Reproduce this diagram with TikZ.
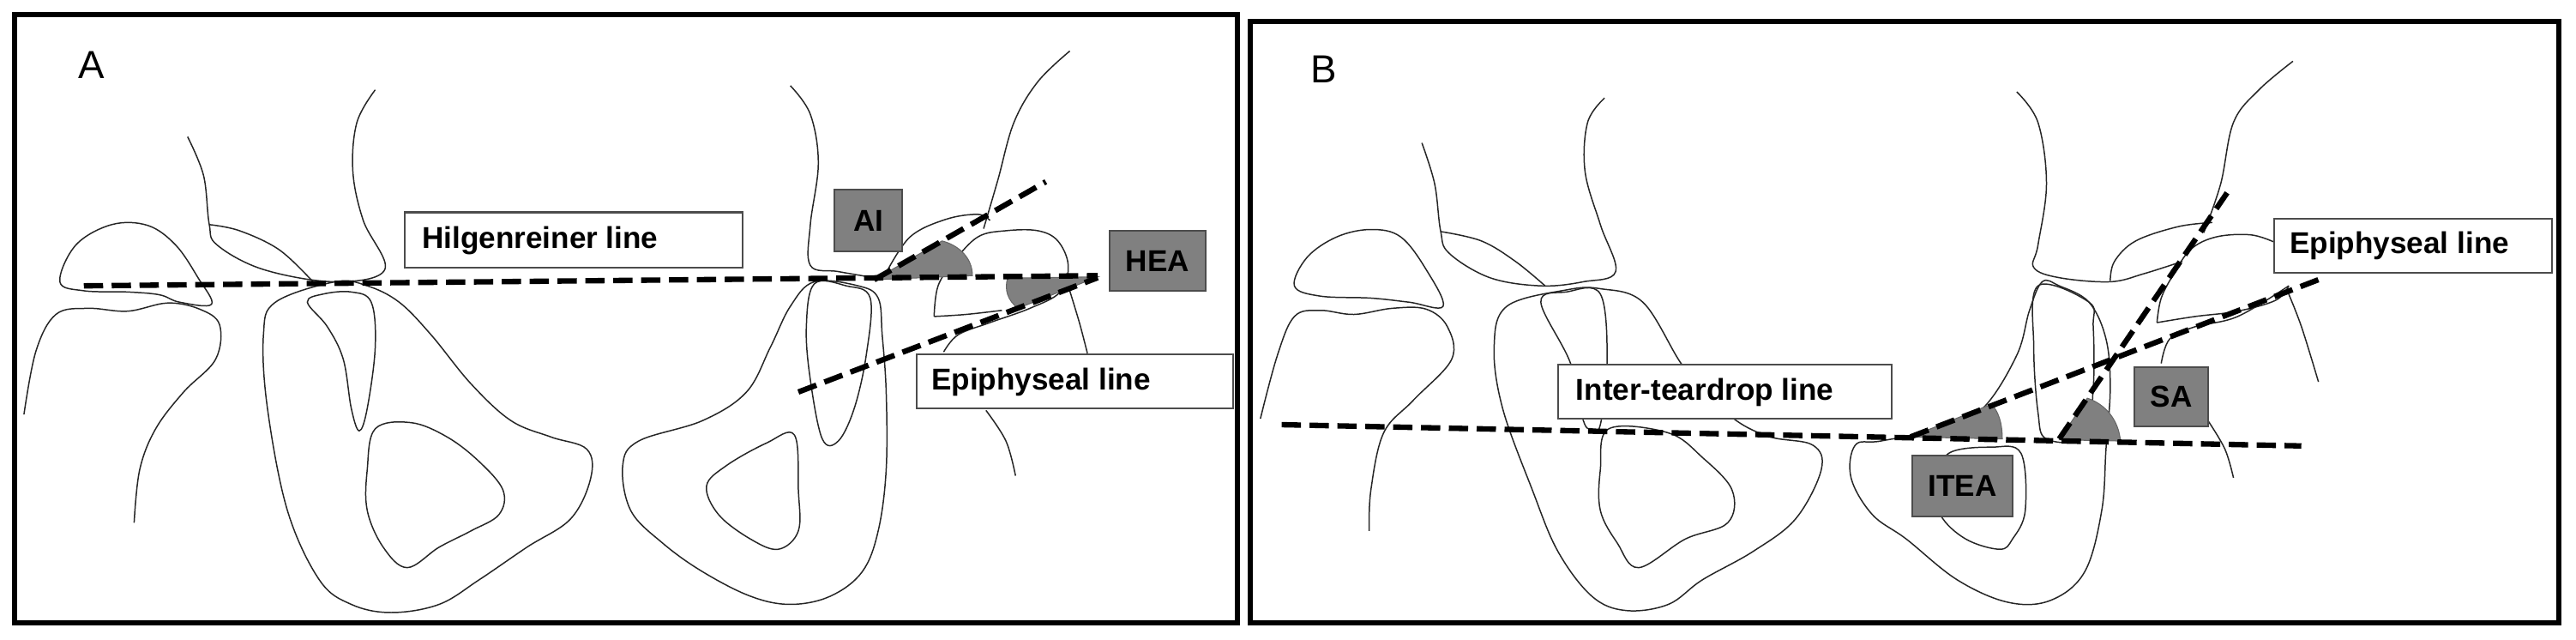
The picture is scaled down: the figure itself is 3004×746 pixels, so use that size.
\documentclass[tikz,border=0pt]{standalone}
\usepackage{fontspec}
\setmainfont{Liberation Sans}
\begin{document}
\begin{tikzpicture}[x=0.02cm,y=-0.02cm,
  bone/.style={line width=0.85pt,black!85},
  dline/.style={line width=3.6pt,dash pattern=on 0.45cm off 0.2cm},
  wedge/.style={fill=black!50,draw=black!60,line width=0.6pt},
  wbox/.style={fill=white,draw=black!70,line width=1.2pt},
  gbox/.style={fill=black!50,draw=black!70,line width=1.2pt},
  lbl/.style={font=\fontsize{20}{22}\selectfont\bfseries},
  frame/.style={line width=3.4pt}]
\useasboundingbox (0,0) rectangle (3004,746);
% ---------------- Panel A ----------------
\begin{scope}[xscale=0.931,yscale=0.476]
\draw[frame] (18,35) rectangle (1550,1525);
\node[font=\fontsize{26}{30}\selectfont] (labA) at (115,160) {A};
\draw[bone] plot[smooth cycle,tension=0.6] coordinates {(75,690)(95,600)(140,550)(185,552)(220,600)(248,680)(265,745)(225,740)(200,722)(160,715)(105,712)};
\draw[bone] plot[smooth,tension=0.6] coordinates {(30,1015)(45,860)(70,770)(110,755)(160,762)(210,742)(250,757)(275,795)(270,880)(230,960)(195,1050)(175,1150)(168,1280)};
\draw[bone] plot[smooth,tension=0.6] coordinates {(235,335)(255,430)(262,548)(272,600)(330,660)(420,690)(482,660)(455,540)(442,420)(447,300)(470,220)};
\draw[bone] plot[smooth,tension=0.6] coordinates {(262,550)(300,565)(350,612)(392,690)};
\draw[bone] plot[smooth cycle,tension=0.6] coordinates {(420,690)(345,740)(330,820)(335,1000)(360,1250)(400,1420)(440,1480)(490,1500)(550,1480)(600,1420)(660,1340)(715,1270)(740,1170)(735,1100)(690,1070)(640,1030)(590,940)(540,820)(500,740)(460,700)};
\draw[bone] plot[smooth cycle,tension=0.6] coordinates {(385,740)(405,720)(440,715)(465,740)(470,850)(460,1000)(450,1055)(440,1000)(430,880)(410,800)};
\draw[bone] plot[smooth cycle,tension=0.6] coordinates {(470,1050)(515,1035)(560,1070)(600,1130)(630,1200)(625,1260)(590,1300)(550,1340)(510,1390)(480,1340)(460,1250)(460,1150)};
\draw[bone] plot[smooth,tension=0.6] coordinates {(990,210)(1015,280)(1025,400)(1015,550)(1015,650)(1050,665)(1095,680)};
\draw[bone] plot[smooth,tension=0.6] coordinates {(1110,668)(1140,580)(1185,537)(1225,525)(1240,540)};
\draw[bone] plot[smooth,tension=0.6] coordinates {(1232,560)(1250,440)(1270,300)(1300,200)(1340,125)};
\draw[bone] plot[smooth,tension=0.6] coordinates {(1170,775)(1175,700)(1195,640)(1225,580)(1260,565)(1300,565)(1325,590)(1338,650)(1328,715)(1290,755)(1240,790)(1200,820)(1182,862)};
\draw[bone] plot[smooth,tension=0.6] coordinates {(1170,775)(1210,770)(1255,760)};
\draw[bone] plot[smooth,tension=0.6] coordinates {(1338,700)(1352,790)(1362,865)};
\draw[bone] plot[smooth,tension=0.6] coordinates {(1235,1005)(1260,1080)(1272,1165)};
\draw[bone] plot[smooth cycle,tension=0.6] coordinates {(1020,690)(990,750)(965,850)(935,960)(880,1030)(800,1080)(780,1140)(790,1250)(830,1330)(880,1400)(940,1460)(990,1480)(1040,1460)(1080,1400)(1100,1300)(1110,1150)(1110,960)(1105,820)(1100,730)(1075,700)};
\draw[bone] plot[smooth cycle,tension=0.6] coordinates {(1020,695)(1010,800)(1015,930)(1030,1075)(1050,1080)(1070,1000)(1085,870)(1090,730)(1060,700)};
\draw[bone] plot[smooth cycle,tension=0.6] coordinates {(995,1065)(1000,1200)(1000,1300)(975,1345)(940,1320)(900,1260)(885,1190)(910,1140)(960,1085)};
\filldraw[wedge] (1095,685) -- (1218,675) .. controls (1218,630) and (1200,600) .. (1180,590) -- cycle;
\filldraw[wedge] (1375,678) -- (1262,681) .. controls (1258,710) and (1262,735) .. (1275,755) -- cycle;
\coordinate (h1) at (105,700); \coordinate (h2) at (1375,675);
\coordinate (ai1) at (1095,685); \coordinate (ai2) at (1310,445);
\coordinate (ep1) at (1000,960); \coordinate (ep2) at (1375,680);
\draw[dline] (h1) -- (h2);
\draw[dline] (ai1) -- (ai2);
\draw[dline] (ep1) -- (ep2);
\draw[wbox] (507,520) rectangle (930,655);
\node[lbl,anchor=west] (hil) at (522,590) {Hilgenreiner line};
\draw[gbox] (1045,465) rectangle (1130,615);
\node[lbl] (ai) at (1088,540) {AI};
\draw[gbox] (1390,565) rectangle (1510,712);
\node[lbl] (hea) at (1450,640) {HEA};
\draw[wbox] (1148,868) rectangle (1545,1000);
\node[lbl,anchor=west] (epi) at (1160,936) {Epiphyseal line};
\end{scope}
% ---------------- Panel B ----------------
\begin{scope}[xshift=1450*0.02cm,xscale=0.991,yscale=0.476]
\draw[frame] (8,52) rectangle (1548,1525);
\node[font=\fontsize{26}{30}\selectfont] (labB) at (95,170) {B};
\draw[bone] plot[smooth cycle,tension=0.6] coordinates {(60,700)(75,630)(110,580)(150,562)(185,580)(215,660)(235,750)(195,740)(150,730)(90,725)};
\draw[bone] plot[smooth,tension=0.6] coordinates {(20,1025)(40,870)(60,775)(90,760)(130,770)(175,755)(215,757)(240,800)(245,880)(200,980)(165,1060)(150,1200)(148,1300)};
\draw[bone] plot[smooth,tension=0.6] coordinates {(210,350)(225,450)(232,565)(242,620)(290,680)(350,700)(400,690)(438,665)(420,550)(402,420)(405,300)(425,240)};
\draw[bone] plot[smooth,tension=0.6] coordinates {(232,567)(280,590)(320,640)(355,700)};
\draw[bone] plot[smooth cycle,tension=0.6] coordinates {(380,710)(310,750)(295,850)(305,1000)(340,1200)(370,1350)(410,1460)(450,1495)(500,1480)(540,1420)(600,1350)(650,1270)(680,1150)(670,1090)(620,1070)(580,1030)(545,960)(515,890)(470,740)(420,707)};
\draw[bone] plot[smooth cycle,tension=0.6] coordinates {(350,740)(380,715)(420,720)(428,890)(420,1040)(410,1050)(400,1030)(385,890)};
\draw[bone] plot[smooth cycle,tension=0.6] coordinates {(430,1050)(500,1060)(540,1120)(575,1200)(570,1280)(520,1320)(465,1390)(440,1330)(420,1250)(420,1150)};
\draw[bone] plot[smooth,tension=0.6] coordinates {(910,225)(935,300)(945,450)(935,600)(930,655)(960,680)(1020,690)(1060,670)(1105,640)};
\draw[bone] plot[smooth,tension=0.6] coordinates {(1020,688)(1025,640)(1050,590)(1100,555)(1140,545)};
\draw[bone] plot[smooth,tension=0.6] coordinates {(1130,570)(1150,450)(1165,300)(1195,220)(1235,150)};
\draw[bone] plot[smooth,tension=0.6] coordinates {(1075,790)(1080,730)(1095,670)(1115,610)(1145,580)(1185,575)(1212,592)};
\draw[bone] plot[smooth,tension=0.6] coordinates {(1075,790)(1120,775)(1170,762)(1215,735)(1230,700)};
\draw[bone] plot[smooth,tension=0.6] coordinates {(1230,700)(1170,775)(1120,800)(1090,830)(1080,890)};
\draw[bone] plot[smooth,tension=0.6] coordinates {(1228,710)(1245,800)(1265,935)};
\draw[bone] plot[smooth,tension=0.6] coordinates {(1135,1030)(1155,1100)(1165,1170)};
\draw[bone] plot[smooth cycle,tension=0.6] coordinates {(940,690)(925,760)(910,870)(870,1000)(820,1050)(750,1080)(720,1090)(715,1170)(740,1260)(780,1320)(840,1420)(900,1475)(950,1470)(990,1400)(1010,1250)(1015,1100)(1020,950)(1015,830)(995,740)(960,700)};
\draw[bone] plot[smooth cycle,tension=0.6] coordinates {(935,700)(930,850)(935,1010)(945,1075)(990,1070)(1000,950)(1000,800)(995,740)};
\draw[bone] plot[smooth cycle,tension=0.6] coordinates {(830,1110)(880,1095)(915,1110)(920,1250)(905,1320)(890,1345)(850,1320)(820,1260)(815,1180)};
\filldraw[wedge] (785,1070) -- (893,1075) .. controls (893,1035) and (888,1005) .. (880,990) -- cycle;
\filldraw[wedge] (960,1077) -- (1032,1080) .. controls (1030,1030) and (1015,990) .. (993,975) -- cycle;
\coordinate (t1) at (45,1040); \coordinate (t2) at (1245,1092);
\coordinate (e1) at (785,1070); \coordinate (e2) at (1265,685);
\coordinate (s1) at (960,1075); \coordinate (s2) at (1160,465);
\draw[dline] (t1) -- (t2);
\draw[dline] (e1) -- (e2);
\draw[dline] (s1) -- (s2);
\draw[wbox] (370,893) rectangle (763,1025);
\node[lbl,anchor=west] (itl) at (385,960) {Inter-teardrop line};
\draw[wbox] (1213,535) rectangle (1540,668);
\node[lbl,anchor=west] (epb) at (1225,602) {Epiphyseal line};
\draw[gbox] (1048,900) rectangle (1135,1045);
\node[lbl] (sa) at (1092,972) {SA};
\draw[gbox] (787,1115) rectangle (905,1265);
\node[lbl] (itea) at (846,1190) {ITEA};
\end{scope}
\end{tikzpicture}
\end{document}
